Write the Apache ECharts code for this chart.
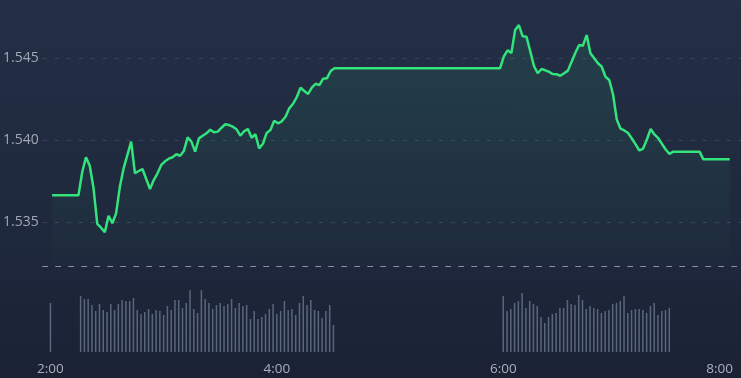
<!DOCTYPE html>
<html>
<head>
<meta charset="utf-8">
<script src="https://cdn.jsdelivr.net/npm/echarts@6/dist/echarts.min.js"></script>
<style>
html,body{margin:0;padding:0;}
#chart{width:741px;height:378px;background:linear-gradient(to bottom,#232f46 0%,#1f293d 60%,#1a2234 100%);}
</style>
</head>
<body>
<div id="chart"></div>
<script>
// ---- data ----
const xTickLabels = ['2:00', '4:00', '6:00', '8:00'];

const priceTimes = [
'2:00','2:14','2:16','2:18','2:20','2:22','2:24','2:26','2:28','2:30','2:32','2:34','2:36','2:38','2:40','2:42','2:44','2:46','2:48','2:50','2:52','2:54','2:56','2:58',
'3:00','3:02','3:04','3:06','3:08','3:10','3:12','3:14','3:16','3:18','3:20','3:22','3:24','3:26','3:28','3:30','3:32','3:34','3:36','3:38','3:40','3:42','3:44','3:46','3:48','3:50','3:52','3:54','3:56','3:58',
'4:00','4:02','4:04','4:06','4:08','4:10','4:12','4:14','4:16','4:18','4:20','4:22','4:24','4:26','4:28','4:30',
'5:58','6:00','6:02','6:04','6:06','6:08','6:10','6:12','6:14','6:16','6:18','6:20','6:22','6:24','6:26','6:28','6:30','6:32','6:34','6:36','6:38','6:40','6:42','6:44','6:46','6:48','6:50','6:52','6:54','6:56','6:58',
'7:00','7:02','7:04','7:06','7:08','7:10','7:12','7:14','7:16','7:18','7:20','7:22','7:24','7:26','7:28','7:30','7:44','7:46','8:00'
];
const prices = [
1.53663,1.53663,1.53805,1.53895,1.53843,1.53707,1.53488,1.53465,1.53437,1.53538,1.53492,1.53553,1.53715,1.53827,1.53909,1.53990,1.53797,1.53811,1.53823,1.53762,1.53701,1.53756,1.53797,1.53848,
1.53870,1.53886,1.53895,1.53913,1.53904,1.53933,1.54016,1.53990,1.53929,1.54010,1.54026,1.54041,1.54063,1.54047,1.54051,1.54075,1.54096,1.54091,1.54081,1.54065,1.54026,1.54053,1.54067,1.54014,1.54035,1.53949,1.53977,1.54043,1.54061,1.54118,
1.54102,1.54114,1.54142,1.54193,1.54221,1.54262,1.54319,1.54299,1.54281,1.54319,1.54343,1.54335,1.54374,1.54376,1.54421,1.54438,
1.54438,1.54510,1.54547,1.54530,1.54671,1.54701,1.54632,1.54630,1.54543,1.54451,1.54407,1.54433,1.54425,1.54416,1.54402,1.54401,1.54392,1.54407,1.54423,1.54477,1.54532,1.54579,1.54575,1.54640,1.54529,1.54498,1.54468,1.54447,1.54386,1.54366,1.54279,
1.54125,1.54069,1.54058,1.54043,1.54009,1.53973,1.53936,1.53948,1.54003,1.54067,1.54034,1.54012,1.53976,1.53942,1.53915,1.53929,1.53929,1.53882,1.53882
];

// volume sessions (2-minute bars)
const volOpenTime = '2:00';
const volOpen = [49];
const volSession1Start = '2:16';
const volSession1 = [56,53,53,47,41,48,42,40,48,42,48,52,51,51,54,42,38,40,43,38,42,41,37,46,42,52,52,44,49,62,43,39,62,53,49,43,47,49,46,48,53,44,49,46,47,33,41,33,35,38,43,48,38,41,51,42,43,37,49,56,47,52,42,41,34,41,47,27];
const volSession2Start = '6:00';
const volSession2 = [56,41,43,49,51,59,44,51,48,46,35,29,35,38,39,44,44,52,48,47,57,52,43,46,44,43,39,41,42,48,49,51,56,39,42,43,43,42,39,46,49,37,41,42,44];
const volStepMin = 2;

// ---- helpers ----
function toMin(s){ const p = s.split(':'); return (+p[0]) * 60 + (+p[1]); }
function fmt(m){ const h = Math.floor(m/60), mm = m % 60; return h + ':' + (mm < 10 ? '0' : '') + mm; }

const priceData = priceTimes.map((t, i) => [toMin(t), prices[i]]);
const volData = [[toMin(volOpenTime), volOpen[0]]];
volSession1.forEach((v, i) => volData.push([toMin(volSession1Start) + i * volStepMin, v]));
volSession2.forEach((v, i) => volData.push([toMin(volSession2Start) + i * volStepMin, v]));

const xMin = toMin('1:55'), xMax = toMin('8:06');
const xTicks = xTickLabels.map(toMin);
const lastTick = xTicks[xTicks.length - 1];

const chart = echarts.init(document.getElementById('chart'), null, {renderer: 'canvas'});
chart.setOption({
  animation: false,
  backgroundColor: 'transparent',
  grid: [
    {left: 41, right: 0, top: 0, height: 266},
    {left: 41, right: 0, top: 280, height: 72}
  ],
  xAxis: [
    {
      type: 'value', gridIndex: 0, min: xMin, max: xMax,
      axisLine: {show: true, lineStyle: {color: '#8a93a3', type: [5, 8], width: 1}},
      axisTick: {show: false}, axisLabel: {show: false}, splitLine: {show: false}
    },
    {
      type: 'value', gridIndex: 1, min: xMin, max: xMax,
      axisLine: {show: false}, axisTick: {show: false}, splitLine: {show: false},
      axisLabel: {
        show: true,
        customValues: xTicks,
        margin: 10,
        color: '#a9b0bd',
        fontSize: 13.5,
        fontFamily: 'Open Sans',
        formatter: function (v) {
          return v === lastTick ? '{e|' + fmt(v) + '}' : fmt(v);
        },
        rich: {e: {padding: [0, 20, 0, 0], color: '#a9b0bd', fontSize: 13.5, fontFamily: 'Open Sans'}}
      }
    }
  ],
  yAxis: [
    {
      type: 'value', gridIndex: 0,
      min: 1.532317, max: 1.548537, splitNumber: 3,
      axisLine: {show: false}, axisTick: {show: false},
      axisLabel: {
        color: '#a0a8b4', fontSize: 14, fontFamily: 'Open Sans', margin: 4,
        showMinLabel: false, showMaxLabel: false,
        formatter: function (v) { return v.toFixed(3); }
      },
      splitLine: {show: true, showMinLine: false, showMaxLine: false, lineStyle: {color: '#3a4456', type: [4, 8], width: 1}}
    },
    {
      type: 'value', gridIndex: 1, min: 0, max: 72,
      axisLine: {show: false}, axisTick: {show: false}, axisLabel: {show: false}, splitLine: {show: false}
    }
  ],
  series: [
    {
      type: 'line', xAxisIndex: 0, yAxisIndex: 0,
      data: priceData,
      showSymbol: false, symbol: 'none',
      lineStyle: {color: '#33e37c', width: 2.5},
      itemStyle: {color: '#33e37c'},
      areaStyle: {
        color: new echarts.graphic.LinearGradient(0, 0, 0, 1, [
          {offset: 0, color: 'rgba(51,227,124,0.15)'},
          {offset: 1, color: 'rgba(51,227,124,0.02)'}
        ])
      }
    },
    {
      type: 'bar', xAxisIndex: 1, yAxisIndex: 1,
      data: volData,
      barWidth: 1.5,
      itemStyle: {color: '#5a667c'}
    }
  ]
});
</script>
</body>
</html>
